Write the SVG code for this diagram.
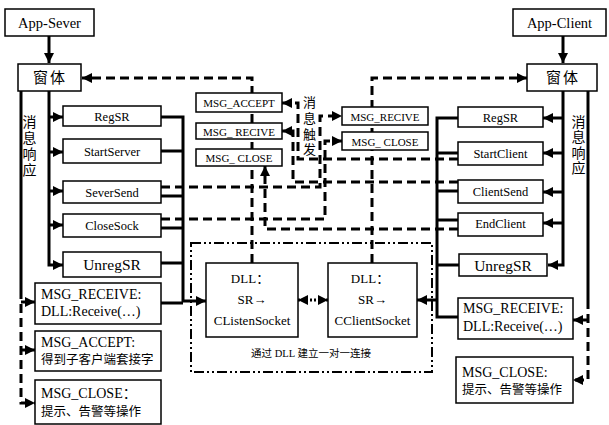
<svg xmlns="http://www.w3.org/2000/svg" width="609" height="425" viewBox="0 0 609 425">
<defs>
<marker id="ah" markerUnits="userSpaceOnUse" markerWidth="11" markerHeight="11" refX="10" refY="5" orient="auto">
<path d="M0,0 L10,5 L0,10 z" fill="#000"/>
</marker>
<marker id="ahs" markerUnits="userSpaceOnUse" markerWidth="11" markerHeight="11" refX="10" refY="5" orient="auto-start-reverse">
<path d="M0,0 L10,5 L0,10 z" fill="#000"/>
</marker>
<style>
.box{fill:#fff;stroke:#000;stroke-width:1.5}
.ln{fill:none;stroke:#000;stroke-width:3}
.dl{fill:none;stroke:#000;stroke-width:3;stroke-dasharray:9 5}
.dt{fill:none;stroke:#000;stroke-width:3;stroke-dasharray:2 2}
.dd{fill:none;stroke:#000;stroke-width:2;stroke-dasharray:10 3 2 3 2 3}
text{font-family:'Liberation Serif','Noto Sans CJK SC',serif;fill:#000}
.t{text-anchor:middle}
.s{text-anchor:start}
</style>
</defs>
<rect width="609" height="425" fill="#fff"/>

<g id="connectors">
<path class="ln" d="M49,36 V63" marker-end="url(#ah)"/>
<path class="ln" d="M49,91 V265 H63" marker-end="url(#ah)"/>
<path class="ln" d="M49,117 H63" marker-end="url(#ah)"/>
<path class="ln" d="M49,152 H63" marker-end="url(#ah)"/>
<path class="ln" d="M49,191 H63" marker-end="url(#ah)"/>
<path class="ln" d="M49,225 H63" marker-end="url(#ah)"/>
<path class="ln" d="M21,91 V290"/>
<path class="dl" d="M21,290 V403 H35" marker-end="url(#ah)"/>
<path class="ln" d="M21,302 H35" marker-end="url(#ah)"/>
<path class="ln" d="M21,350 H35" marker-end="url(#ah)"/>
<path class="ln" d="M161,117 H183 V301 H206" marker-end="url(#ah)"/>
<path class="ln" d="M161,151 H183 M161,196 H183 M161,228 H183 M161,263 H183 M161,303 H183"/>
<path class="dl" d="M252,263 V78 H82" marker-end="url(#ah)"/>
<path class="dl" d="M372,263 V78 H527" marker-end="url(#ah)"/>
<path class="dl" d="M161,187 H320 V116 H342" marker-end="url(#ah)"/>
<path class="dl" d="M161,219 H325 V141 H342" marker-end="url(#ah)"/>
<path class="dl" d="M458,159 H298 V103 H282" marker-end="url(#ah)"/>
<path class="dl" d="M458,182 H293 V131 H282" marker-end="url(#ah)"/>
<path class="dl" d="M458,229 H265 V166" marker-end="url(#ah)"/>
<path class="dt" d="M298,300 H328" marker-start="url(#ahs)" marker-end="url(#ah)"/>
<path class="ln" d="M563,36 V63" marker-end="url(#ah)"/>
<path class="ln" d="M563,91 V265 H548" marker-end="url(#ah)"/>
<path class="ln" d="M563,118 H543" marker-end="url(#ah)"/>
<path class="ln" d="M563,153 H543" marker-end="url(#ah)"/>
<path class="ln" d="M563,192 H543" marker-end="url(#ah)"/>
<path class="ln" d="M563,223 H543" marker-end="url(#ah)"/>
<path class="ln" d="M588,91 V300"/>
<path class="dl" d="M588,300 V380 H573" marker-end="url(#ah)"/>
<path class="ln" d="M588,320 H573" marker-end="url(#ah)"/>
<path class="ln" d="M458,118 H437 V317 H458"/>
<path class="ln" d="M458,153 H437 M458,191 H437 M458,220 H437 M459,265 H437"/>
<path class="ln" d="M437,300 H417" marker-end="url(#ah)"/>
<rect class="dd" x="191" y="243" width="241" height="129"/>
</g>

<g id="app-sever"><rect class="box" x="5" y="9" width="89" height="27"/><text class="t" x="49.5" y="28" font-size="14.5">App-Sever</text></g>
<g id="win-left"><rect class="box" x="18" y="64" width="63" height="27"/><text class="t" x="50" y="83" font-size="15" letter-spacing="2">窗体</text></g>
<g id="regsr-l"><rect class="box" x="63" y="106" width="98" height="20"/><text class="t" x="112" y="121" font-size="12.5">RegSR</text></g>
<g id="startserver"><rect class="box" x="63" y="139" width="98" height="24"/><text class="t" x="112" y="156" font-size="12.5">StartServer</text></g>
<g id="seversend"><rect class="box" x="63" y="181" width="98" height="22"/><text class="t" x="112" y="197" font-size="12.5">SeverSend</text></g>
<g id="closesock"><rect class="box" x="63" y="214" width="98" height="23"/><text class="t" x="112" y="230" font-size="12.5">CloseSock</text></g>
<g id="unregsr-l"><rect class="box" x="63" y="252" width="98" height="25"/><text class="t" x="112" y="270" font-size="15.5">UnregSR</text></g>
<g id="msgresp-l"><text class="t" font-size="14"><tspan x="29.5" y="127">消</tspan><tspan x="29.5" y="143">息</tspan><tspan x="29.5" y="159">响</tspan><tspan x="29.5" y="175">应</tspan></text></g>
<g id="recv-l"><rect class="box" x="35" y="283" width="126" height="41"/><text class="s" x="41" y="299" font-size="14">MSG_RECEIVE:</text><text class="s" x="41" y="316" font-size="14">DLL:Receive(…)</text></g>
<g id="accept-l"><rect class="box" x="35" y="331" width="126" height="40"/><text class="s" x="41" y="347" font-size="14">MSG_ACCEPT:</text><text class="s" x="41" y="364" font-size="12.5">得到子客户端套接字</text></g>
<g id="close-l"><rect class="box" x="35" y="380" width="126" height="44"/><text class="s" x="41" y="398" font-size="14">MSG_CLOSE：</text><text class="s" x="41" y="416" font-size="12.5">提示、告警等操作</text></g>

<g id="m-accept"><rect class="box" x="196" y="93" width="86" height="19"/><text class="t" x="239" y="107" font-size="11">MSG_ACCEPT</text></g>
<g id="m-recive-l"><rect class="box" x="196" y="123" width="86" height="16"/><text class="t" x="239" y="135.5" font-size="11">MSG_ RECIVE</text></g>
<g id="m-close-l"><rect class="box" x="196" y="149" width="86" height="17"/><text class="t" x="239" y="162" font-size="11">MSG_ CLOSE</text></g>
<g id="m-recive-r"><rect class="box" x="342" y="107" width="86" height="18"/><text class="t" x="385" y="120.5" font-size="11">MSG_RECIVE</text></g>
<g id="m-close-r"><rect class="box" x="342" y="132" width="86" height="18"/><text class="t" x="385" y="145.5" font-size="11">MSG_ CLOSE</text></g>
<g id="trigger"><text class="t" font-size="13"><tspan x="309.5" y="107">消</tspan><tspan x="309.5" y="123">息</tspan><tspan x="309.5" y="139">触</tspan><tspan x="309.5" y="154">发</tspan></text></g>
<g id="dll-listen"><rect class="box" x="206" y="263" width="92" height="74"/><text class="t" x="250" y="283" font-size="13">DLL：</text><text class="t" x="252" y="304" font-size="13">SR→</text><text class="t" x="252" y="325" font-size="13">CListenSocket</text></g>
<g id="dll-client"><rect class="box" x="328" y="263" width="89" height="74"/><text class="t" x="370" y="283" font-size="13">DLL：</text><text class="t" x="372.5" y="304" font-size="13">SR→</text><text class="t" x="372.5" y="325" font-size="13">CClientSocket</text></g>
<g id="dll-label"><text class="t" x="311" y="357" font-size="10.5">通过 DLL 建立一对一连接</text></g>

<g id="app-client"><rect class="box" x="513" y="9" width="93" height="27"/><text class="t" x="559.5" y="28" font-size="14.5">App-Client</text></g>
<g id="win-right"><rect class="box" x="527" y="64" width="70" height="27"/><text class="t" x="563" y="83" font-size="15" letter-spacing="2">窗体</text></g>
<g id="regsr-r"><rect class="box" x="458" y="107" width="85" height="20"/><text class="t" x="500.5" y="122" font-size="12.5">RegSR</text></g>
<g id="startclient"><rect class="box" x="458" y="142" width="85" height="23"/><text class="t" x="500.5" y="158" font-size="12.5">StartClient</text></g>
<g id="clientsend"><rect class="box" x="458" y="180" width="85" height="23"/><text class="t" x="500.5" y="196" font-size="12.5">ClientSend</text></g>
<g id="endclient"><rect class="box" x="458" y="213" width="85" height="23"/><text class="t" x="500.5" y="228" font-size="12.5">EndClient</text></g>
<g id="unregsr-r"><rect class="box" x="459" y="254" width="88" height="22"/><text class="t" x="503" y="271" font-size="15.5">UnregSR</text></g>
<g id="msgresp-r"><text class="t" font-size="14"><tspan x="578.5" y="127">消</tspan><tspan x="578.5" y="142">息</tspan><tspan x="578.5" y="158">响</tspan><tspan x="578.5" y="173">应</tspan></text></g>
<g id="recv-r"><rect class="box" x="458" y="298" width="115" height="41"/><text class="s" x="463" y="313" font-size="14">MSG_RECEIVE:</text><text class="s" x="463" y="331" font-size="14">DLL:Receive(…)</text></g>
<g id="close-r"><rect class="box" x="456" y="357" width="117" height="46"/><text class="s" x="462" y="377" font-size="14">MSG_CLOSE:</text><text class="s" x="462" y="394" font-size="12.5">提示、告警等操作</text></g>
</svg>
